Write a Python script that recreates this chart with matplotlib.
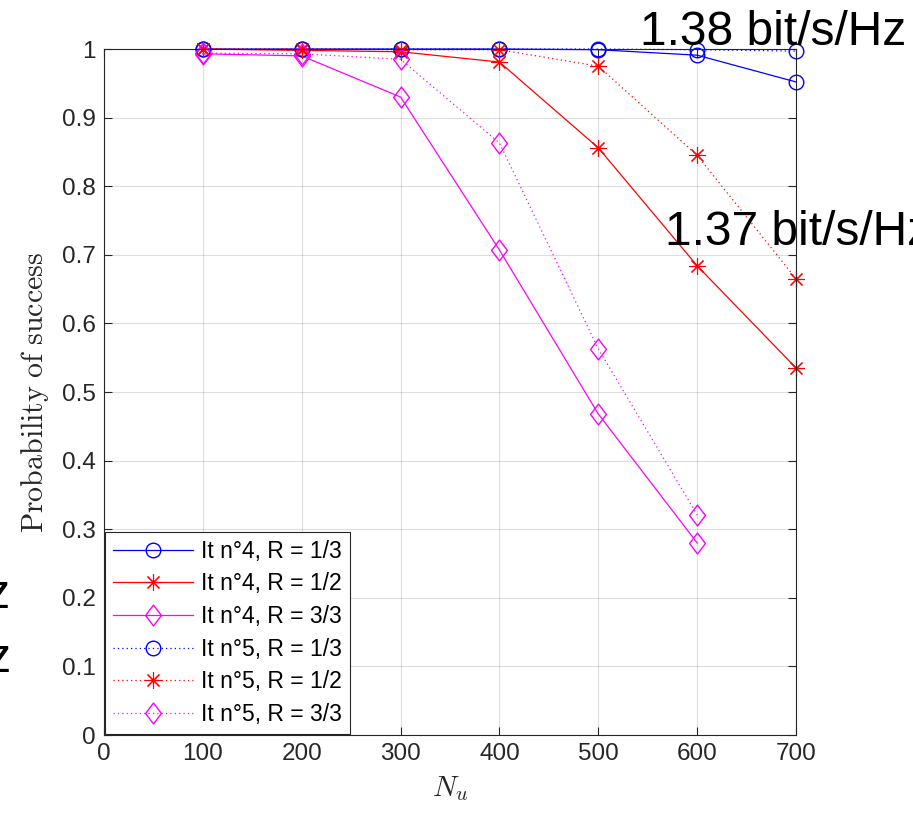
import numpy as np
import matplotlib
matplotlib.use('Agg')
import matplotlib.pyplot as plt
from matplotlib.path import Path

plt.rcParams['font.family'] = ['Liberation Sans', 'DejaVu Sans']
plt.rcParams['mathtext.fontset'] = 'cm'

#number of users
Nu = [100, 200, 300, 400, 500, 600, 700]
Nu_33 = [100, 200, 300, 400, 500, 600]

#probability of success, iteration 4
it4_r13 = [1.0, 1.0, 1.0, 1.0, 0.999, 0.991, 0.952]
it4_r12 = [1.0, 0.998, 0.996, 0.981, 0.856, 0.684, 0.535]
it4_r33 = [0.993, 0.990, 0.930, 0.707, 0.468, 0.280]

#probability of success, iteration 5
it5_r13 = [1.0, 1.0, 1.0, 1.0, 1.0, 0.999, 0.997]
it5_r12 = [1.0, 1.0, 0.999, 0.999, 0.975, 0.845, 0.665]
it5_r33 = [0.994, 0.993, 0.985, 0.863, 0.563, 0.321]

labels = ['It n°4, R = 1/3', 'It n°4, R = 1/2', 'It n°4, R = 3/3',
          'It n°5, R = 1/3', 'It n°5, R = 1/2', 'It n°5, R = 3/3']

#matlab style markers
diamond = Path([(0, 1), (0.76, 0), (0, -1), (-0.76, 0), (0, 1)], closed=True)
star = (8, 2, 0)
dot = (0, (1, 2.5))

fig = plt.figure(figsize=(9.13, 8.13), dpi=100)
ax = fig.add_axes([0.1139, 0.0959, 0.758, 0.8438])

kw = dict(linewidth=0.9, markerfacecolor='none', clip_on=False)
ax.plot(Nu, it4_r13, '-', color='blue', marker='o', markersize=10.5, markeredgewidth=1.0, **kw)
ax.plot(Nu, it4_r12, '-', color='red', marker=star, markersize=12, markeredgewidth=0.8, **kw)
ax.plot(Nu_33, it4_r33, '-', color='magenta', marker=diamond, markersize=15, markeredgewidth=1.0, **kw)
ax.plot(Nu, it5_r13, linestyle=dot, color='blue', marker='o', markersize=10.5, markeredgewidth=1.0, **kw)
ax.plot(Nu, it5_r12, linestyle=dot, color='red', marker=star, markersize=12, markeredgewidth=0.8, **kw)
ax.plot(Nu_33, it5_r33, linestyle=dot, color='magenta', marker=diamond, markersize=15, markeredgewidth=1.0, **kw)

ax.set_xlim(0, 700)
ax.set_ylim(0, 1)
ax.set_xticks(np.arange(0, 701, 100))
ax.set_yticks(np.arange(0, 1.01, 0.1))
ax.set_yticklabels(['0', '0.1', '0.2', '0.3', '0.4', '0.5', '0.6', '0.7', '0.8', '0.9', '1'])
ax.grid(True, color='#000000', alpha=0.13, linewidth=0.8)
ax.set_axisbelow(True)
ax.tick_params(direction='in', top=True, right=True, length=6, width=0.8,
               labelsize=17.5, labelcolor='#262626', color='#262626', pad=6)
for s in ax.spines.values():
    s.set_color('#262626')
    s.set_linewidth(0.8)

ax.set_xlabel('$N_u$', fontsize=21, color='#262626', labelpad=6)
ax.set_ylabel(r'$\mathrm{Probability\ of\ success}$', fontsize=21.5, color='#262626', labelpad=8)

leg = ax.legend(labels, loc='lower left', fontsize=16.5, frameon=True, fancybox=False,
                framealpha=1, edgecolor='#262626', borderaxespad=0.05, handlelength=3.5,
                labelspacing=0.42, borderpad=0.35, handletextpad=0.35)
leg.get_frame().set_linewidth(0.8)

#spectral efficiency annotations
ax.text(542, 1.006, '1.38 bit/s/Hz', fontsize=34.5, va='baseline', clip_on=False, zorder=10)
ax.text(567, 0.714, '1.37 bit/s/Hz', fontsize=34.5, va='baseline', clip_on=False, zorder=10)
ax.text(-95, 0.185, '1.36 bit/s/Hz', fontsize=34.5, va='baseline', ha='right', clip_on=False)
ax.text(-94, 0.092, '1.35 bit/s/Hz', fontsize=34.5, va='baseline', ha='right', clip_on=False)

plt.savefig('out.png', dpi=100)
